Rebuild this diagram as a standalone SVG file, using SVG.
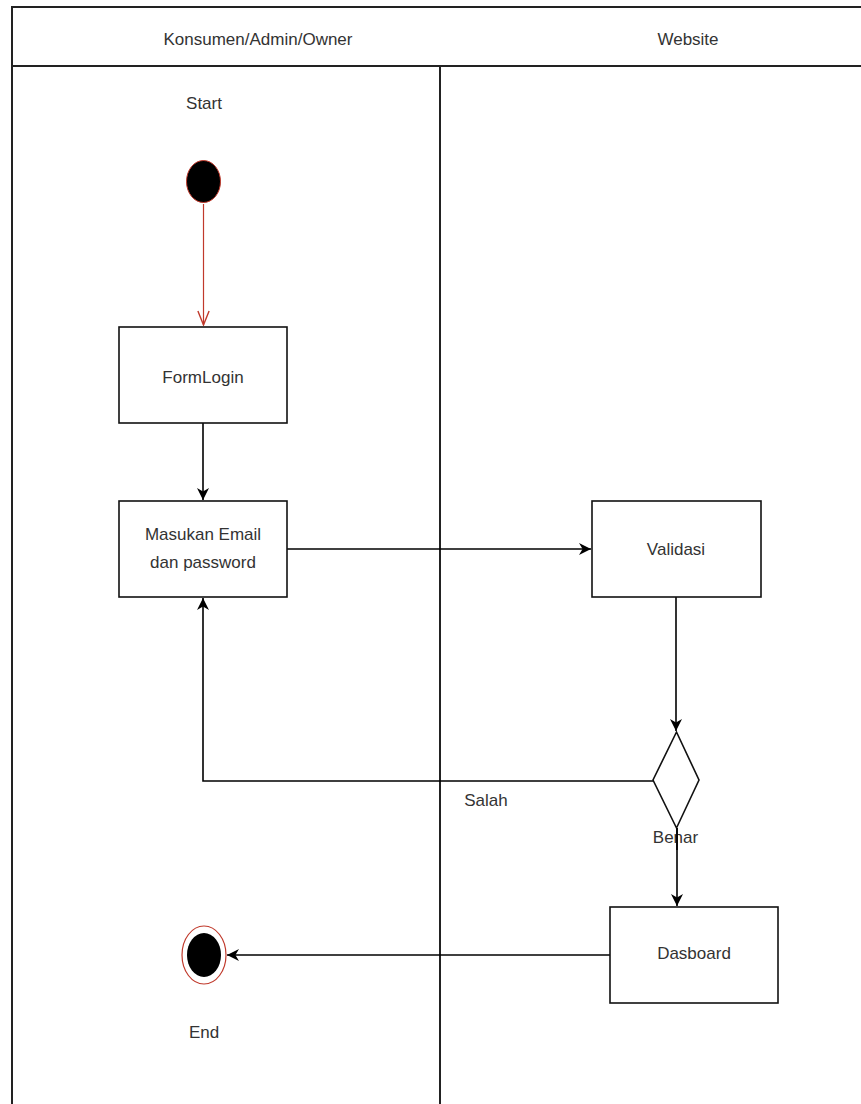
<svg xmlns="http://www.w3.org/2000/svg" width="861" height="1104" viewBox="0 0 861 1104">
<style>
  .lane { fill: none; stroke: #222; stroke-width: 2; }
  .box { fill: #fff; stroke: #111; stroke-width: 1.6; }
  .conn { fill: none; stroke: #000; stroke-width: 1.6; }
  .red { fill: none; stroke: #c0392b; stroke-width: 1.2; }
  .t { font-family: "Liberation Sans", Arial, sans-serif; font-size: 17px; fill: #333; text-anchor: middle; }
</style>
<defs>
  <marker id="arr" viewBox="0 0 10 10" refX="10" refY="5" markerWidth="13" markerHeight="12" markerUnits="userSpaceOnUse" orient="auto">
    <path d="M0,0 L10,5 L0,10 L3,5 z" fill="#000"/>
  </marker>
  <marker id="open" viewBox="0 0 10 10" refX="10" refY="5" markerWidth="16" markerHeight="14" markerUnits="userSpaceOnUse" orient="auto">
    <path d="M0,1 L10,5 L0,9" fill="none" stroke="#c0392b" stroke-width="1"/>
  </marker>
</defs>
<rect width="861" height="1104" fill="#fff"/>
<g id="lanes">
  <path class="lane" d="M12,1104 V7 H861"/>
  <path class="lane" d="M12,66 H861" stroke="#444"/>
  <path class="lane" d="M440,66 V1104" stroke-width="1.6"/>
  <text class="t" x="258" y="45">Konsumen/Admin/Owner</text>
  <text class="t" x="688" y="45">Website</text>
</g>
<g id="connectors">
  <path class="red" d="M203.5,204 V325" marker-end="url(#open)"/>
  <path class="conn" d="M203,423 V500" marker-end="url(#arr)"/>
  <path class="conn" d="M287,549 H591" marker-end="url(#arr)"/>
  <path class="conn" d="M676,597 V731" marker-end="url(#arr)"/>
  <path class="conn" d="M653,781 H203 V598" marker-end="url(#arr)"/>
  <path class="conn" d="M677,828 V906" marker-end="url(#arr)"/>
  <path class="conn" d="M610,955 H227" marker-end="url(#arr)"/>
  <text class="t" x="486" y="806">Salah</text>
</g>
<g id="start">
  <text class="t" x="204" y="109">Start</text>
  <ellipse cx="203.5" cy="181.5" rx="17" ry="21" fill="#000" stroke="#c0392b" stroke-width="1"/>
</g>
<g id="formlogin">
  <rect class="box" x="119" y="327" width="168" height="96"/>
  <text class="t" x="203" y="383">FormLogin</text>
</g>
<g id="masukan">
  <rect class="box" x="119" y="501" width="168" height="96"/>
  <text class="t" x="203" y="540">Masukan Email</text>
  <text class="t" x="203" y="568">dan password</text>
</g>
<g id="validasi">
  <rect class="box" x="592" y="501" width="169" height="96"/>
  <text class="t" x="676" y="555">Validasi</text>
</g>
<g id="decision">
  <polygon points="676.5,732 699,780 676.5,828 653,780" fill="#fff" stroke="#111" stroke-width="1.6"/>
  <text class="t" x="675.5" y="843">Benar</text>
  <path class="conn" d="M677,828 V850"/>
</g>
<g id="dasboard">
  <rect class="box" x="610" y="907" width="168" height="96"/>
  <text class="t" x="694" y="959">Dasboard</text>
</g>
<g id="end">
  <ellipse cx="204" cy="955" rx="22" ry="29" fill="#fff" stroke="#c0392b" stroke-width="1.2"/>
  <ellipse cx="204" cy="955" rx="17" ry="22" fill="#000"/>
  <text class="t" x="204" y="1038">End</text>
</g>
</svg>
